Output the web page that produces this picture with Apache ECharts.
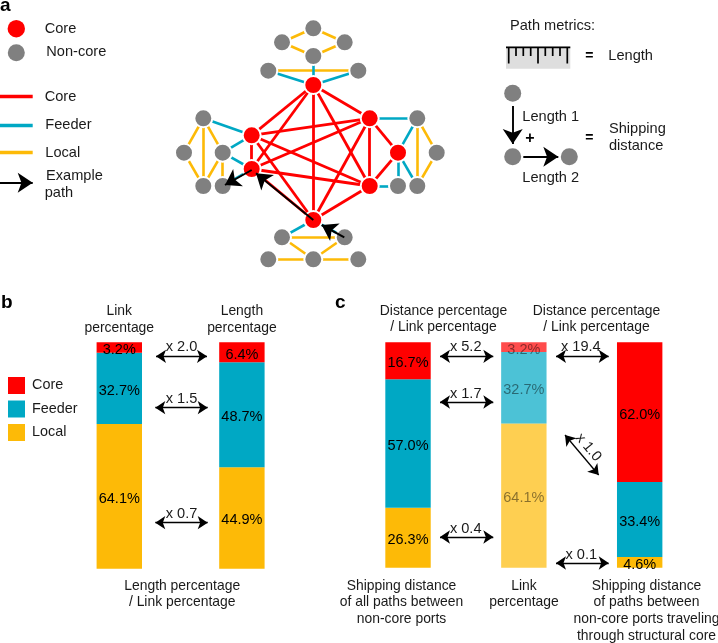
<!DOCTYPE html>
<html><head><meta charset="utf-8">
<style>html,body{margin:0;padding:0;background:#fff}#c{width:718px;height:643px}</style>
<script src="https://cdn.jsdelivr.net/npm/echarts@6/dist/echarts.min.js"></script>
</head><body><div id="c"></div>
<script>
// ---------- data: panel b ----------
const bCategories = ['Link\npercentage', 'Length\npercentage'];
const bCore = [4.6, 8.8];          // drawn segment heights
const bFeeder = [31.5, 46.4];
const bLocal = [63.9, 44.8];
const bCoreLabels = ['3.2%', '6.4%'];   // printed values
const bFeederLabels = ['32.7%', '48.7%'];
const bLocalLabels = ['64.1%', '44.9%'];
// ---------- data: panel c ----------
const cCategories = ['Shipping distance\nof all paths between\nnon-core ports', 'Link\npercentage',
  'Shipping distance\nof paths between\nnon-core ports traveling\nthrough structural core'];
const cCore = [16.4, 4.3, 62.0];
const cFeeder = [57.0, 31.7, 33.3];
const cLocal = [26.6, 64.0, 4.7];
const cCoreLabels = ['16.7%', '3.2%', '62.0%'];
const cFeederLabels = ['57.0%', '32.7%', '33.4%'];
const cLocalLabels = ['26.3%', '64.1%', '4.6%'];
// ---------- data: panel a network ----------
const coreNodes = ['T', 'RU', 'R', 'RL', 'B', 'LL', 'LU'];
const nonCoreNodes = ['d1', 'd2', 'd3', 'd4', 'tl', 'tr', 'r1', 'r2', 'r3', 'r4', 'l1', 'l2', 'l3', 'l4', 'l5', 'b1', 'b2', 'b3', 'b4', 'b5'];
const coreLinks = [['T','RU'],['T','RL'],['T','B'],['T','LU'],['T','LL'],['RU','RL'],['RU','R'],['RU','B'],['RU','LU'],['RU','LL'],
  ['R','RL'],['RL','B'],['RL','LU'],['RL','LL'],['B','LL'],['B','LU'],['LU','LL']];
const feederLinks = [['T','tl'],['T','tr'],['T','d4'],['RU','r1'],['R','r1'],['R','r3'],['R','r4'],['RL','r3'],['LU','l1'],['LU','l3'],
  ['LL','l3'],['LL','l5'],['B','b1'],['B','b2']];
const localLinks = [['d1','d2'],['d1','d3'],['d2','d4'],['d3','d4'],['tl','tr'],['r1','r4'],['r1','r2'],['r2','r4'],['l1','l2'],['l1','l4'],
  ['l1','l3'],['l2','l4'],['l3','l4'],['l3','l5'],['b1','b2'],['b1','b4'],['b2','b4'],['b3','b4'],['b4','b5']];

// ---------- layout (page pixels mapped through the overlay axes) ----------
const P = {T:[313.3,85],RU:[369.7,118.3],R:[398,152.7],RL:[369.7,186],B:[313.3,220],LL:[251.7,169],LU:[251.7,135.3],
  d1:[313.3,28.3],d2:[282,42.3],d3:[344.7,42.3],d4:[313.3,56],tl:[268.3,70.7],tr:[358.3,70.7],
  r1:[417.3,118.3],r2:[436.7,152.7],r3:[398,186],r4:[417.3,186],
  l1:[203.3,118.3],l2:[184,152.7],l3:[222.7,152.7],l4:[203.3,186],l5:[222.7,186],
  b1:[282,237.3],b2:[344.7,237.3],b3:[268.3,259.3],b4:[313.3,259.3],b5:[358.3,259.3]};
const RED='#ff0000', BLUE='#00a8c4', YEL='#fdba07', GRAY='#808080', TXT='#1a1a1a', FONT='"Liberation Sans", Arial, sans-serif';

const linkItems = (arr,color,w)=>arr.map(([s,t])=>({source:s,target:t,lineStyle:{color,width:w,opacity:1,curveness:0}}));

function barSeries(name,stack,xi,yi,vals,labels,color,fade){
  return {type:'bar',name,stack,xAxisIndex:xi,yAxisIndex:yi,barWidth:45.4,
    itemStyle:{color},
    label:{show:true,position:'inside',offset:[0,2.5],fontFamily:FONT,fontSize:14.5,color:'#000',
      formatter:p=>labels[p.dataIndex]},
    data:vals.map((v,i)=> i===fade ? {value:v,itemStyle:{opacity:0.7},label:{color:'rgba(0,0,0,0.66)'}} : v)};
}
const networkArrows = [[P.B,[256,173.3]],[[344.3,237.3],[321.7,225]],[[251.7,170],[225,185]]];
const keyArrows = [[[0,182.7],[32.7,182.7]]];
const bigArrows = [[[512.7,106],[512.7,144]],[[523.3,156.7],[558.3,156.7]]];
const doubleArrows = [
  [[156,356.3],[207,356.3]],[[155.3,407.7],[207.7,407.7]],[[155.3,522.7],[207.7,522.7]],
  [[440,356.3],[493.3,356.3]],[[440,402],[493.3,402]],[[440,537],[493.3,537]],
  [[556,356.3],[608.7,356.3]],[[556,563],[608.7,563]],[[565,435],[598.7,475]]
];

const texts = [
 ['Core',44.7,28],['Non-core',46.3,51.7],['Core',44.7,96],['Feeder',45.3,124.3],['Local',45.3,152.3],['Example',46,175.7],['path',44.7,192.3],
 ['Path metrics:',510,25.3],['Length',608.3,55],['Length 1',522.3,116.7],['Shipping',609,128.7],['distance',609,145.3],['Length 2',522.3,177.7]
];
const centered = [
 ['x 2.0',181.5,346.7],['x 1.5',181.5,398.3],['x 0.7',181.5,513.7],
 ['x 5.2',465.7,346],['x 1.7',465.7,393],['x 0.4',465.7,528],['x 19.4',580.8,346],['x 0.1',581.3,554]
];
const graphicEls = [];
const TEXT_SIZE=14.6;
function T(text,x,y,o={}){graphicEls.push({type:'text',z:50,x,y:y+0.7,rotation:o.rot||0,style:{text,x:0,y:0,fill:o.fill||TXT,
  font:(o.w||'normal')+' '+(o.size||TEXT_SIZE)+'px '+FONT,textAlign:o.align||'left',textVerticalAlign:'middle'}})}
texts.forEach(t=>T(t[0],t[1],t[2]));
centered.forEach(t=>T(t[0],t[1],t[2],{align:'center',size:14.6}));
T('x 1.0',588.3,446.7,{align:'center',size:14.6,rot:-0.87});
function block(str,x,y){str.split('\n').forEach((s,i)=>T(s,x,y+i*16.65,{align:'center',size:13.9}))}
block('Length percentage\n/ Link percentage',182.2,585.3);
block('Distance percentage\n/ Link percentage',443.5,310.3);
block('Distance percentage\n/ Link percentage',596.5,310.3);
block(cCategories[0],401.5,585.3);
block(cCategories[1],524,585.3);
block(cCategories[2],646.5,585.3);
T('a',0,5.5,{w:'bold',size:19,fill:'#000'});
T('b',1,302.5,{w:'bold',size:19,fill:'#000'});
T('c',335,302.5,{w:'bold',size:19,fill:'#000'});
T('=',589.3,55,{w:'bold',size:14,align:'center',fill:'#000'});
T('=',589.3,137.3,{w:'bold',size:14,align:'center',fill:'#000'});
T('+',530,137.8,{w:'bold',size:16,align:'center',fill:'#000'});
// ruler pictogram
graphicEls.push({type:'rect',z:5,shape:{x:506,y:46.7,width:64.3,height:22},style:{fill:'#dedede'}});
graphicEls.push({type:'line',z:6,shape:{x1:506,y1:47.3,x2:570.3,y2:47.3},style:{stroke:'#000',lineWidth:1.8}});
[[508.7,1],[516,0],[523.3,0],[530.7,0],[538,1],[545.3,0],[552.7,0],[560,0],[567.3,1]].forEach(([x,l])=>{
  graphicEls.push({type:'line',z:6,shape:{x1:x,y1:47,x2:x,y2:l?63.5:56},style:{stroke:'#000',lineWidth:1.7}});
});

const option = {
  animation:false,
  backgroundColor:'#fff',
  textStyle:{fontFamily:FONT},
  legend:{data:['Core','Feeder','Local'],orient:'vertical',left:3,top:372,itemWidth:17,itemHeight:17,itemGap:6.5,icon:'rect',
    selectedMode:false,textStyle:{fontFamily:FONT,fontSize:14.4,color:TXT,padding:[0,0,0,2]}},
  grid:[
    {left:58,top:342.3,width:245.2,height:226.4},
    {left:350.1,top:342.3,width:347.5,height:225.4},
    {left:0,top:0,width:718,height:643}
  ],
  xAxis:[
    {gridIndex:0,type:'category',position:'top',data:bCategories,axisLine:{show:false},axisTick:{show:false},
      axisLabel:{margin:6,fontFamily:FONT,fontSize:13.9,lineHeight:16.65,color:TXT,interval:0}},
    {gridIndex:1,type:'category',data:cCategories,show:false},
    {gridIndex:2,type:'value',min:0,max:718,show:false}
  ],
  yAxis:[
    {gridIndex:0,type:'value',min:0,max:100,show:false},
    {gridIndex:1,type:'value',min:0,max:100,show:false},
    {gridIndex:2,type:'value',min:0,max:643,inverse:true,show:false}
  ],
  series:[
    barSeries('Local','b',0,0,bLocal,bLocalLabels,YEL,-1),
    barSeries('Feeder','b',0,0,bFeeder,bFeederLabels,BLUE,-1),
    barSeries('Core','b',0,0,bCore,bCoreLabels,RED,-1),
    barSeries('Local','c',1,1,cLocal,cLocalLabels,YEL,1),
    barSeries('Feeder','c',1,1,cFeeder,cFeederLabels,BLUE,1),
    barSeries('Core','c',1,1,cCore,cCoreLabels,RED,1),
    {type:'graph',name:'network',coordinateSystem:'cartesian2d',xAxisIndex:2,yAxisIndex:2,layout:'none',z:3,
      symbol:'circle',symbolSize:18,silent:true,
      data:[...nonCoreNodes.map(n=>({name:n,value:P[n],itemStyle:{color:GRAY,borderColor:'#fff',borderWidth:2}})),
            ...coreNodes.map(n=>({name:n,value:P[n],itemStyle:{color:RED,borderColor:'#fff',borderWidth:2}}))],
      label:{show:false},
      links:[...linkItems(localLinks,YEL,2.6),...linkItems(feederLinks,BLUE,2.6),...linkItems(coreLinks,RED,2.8)]},
    {type:'scatter',name:'keyCore',xAxisIndex:2,yAxisIndex:2,symbolSize:17.4,itemStyle:{color:RED,opacity:1},z:3,silent:true,data:[[16.3,28.7]]},
    {type:'scatter',name:'keyNon',xAxisIndex:2,yAxisIndex:2,symbolSize:17,itemStyle:{color:GRAY,opacity:1},z:3,silent:true,
      data:[[16.3,52.7],[512.7,93.3],[512.7,156.7],[569.3,156.7]]},
    {type:'lines',coordinateSystem:'cartesian2d',xAxisIndex:2,yAxisIndex:2,z:3,silent:true,symbol:'none',
      data:[{coords:[[0,96.3],[32.7,96.3]],lineStyle:{color:RED,width:3.4,opacity:1}},
            {coords:[[0,125],[32.7,125]],lineStyle:{color:BLUE,width:3.4,opacity:1}},
            {coords:[[0,152.7],[32.7,152.7]],lineStyle:{color:YEL,width:3.4,opacity:1}}]},
    {type:'lines',coordinateSystem:'cartesian2d',xAxisIndex:2,yAxisIndex:2,z:6,silent:true,symbol:['none','arrow'],symbolSize:15,
      lineStyle:{color:'#000',width:2,opacity:1},data:networkArrows.map(c=>({coords:c}))},
    {type:'lines',coordinateSystem:'cartesian2d',xAxisIndex:2,yAxisIndex:2,z:6,silent:true,symbol:['none','arrow'],symbolSize:15,
      lineStyle:{color:'#000',width:1.9,opacity:1},data:[...keyArrows,...bigArrows].map(c=>({coords:c}))},
    {type:'lines',coordinateSystem:'cartesian2d',xAxisIndex:2,yAxisIndex:2,z:6,silent:true,symbol:['arrow','arrow'],symbolSize:10,
      lineStyle:{color:'#000',width:1.3,opacity:1},data:doubleArrows.map(c=>({coords:c}))}
  ],
  graphic:{elements:graphicEls}
};
echarts.init(document.getElementById('c'),null,{renderer:'canvas'}).setOption(option);
</script>
</body></html>
